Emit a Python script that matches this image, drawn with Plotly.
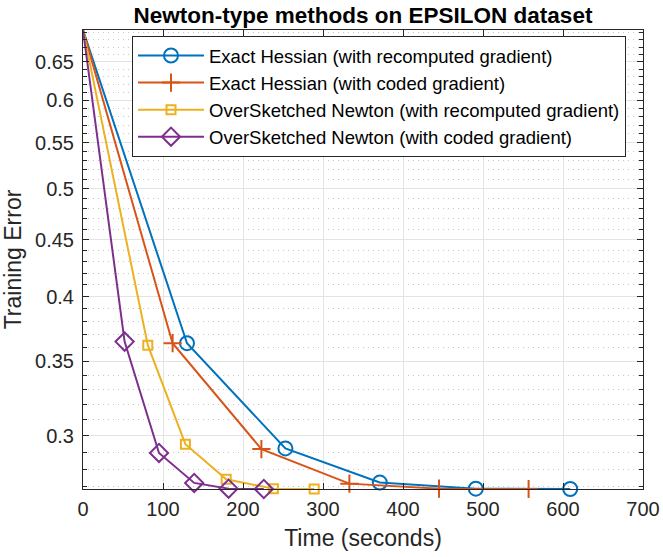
import plotly.graph_objects as go
import math

# ---- data ----
names = [
    "Exact Hessian (with recomputed gradient)",
    "Exact Hessian (with coded gradient)",
    "OverSketched Newton (with recomputed gradient)",
    "OverSketched Newton (with coded gradient)",
]
time_exact_recomp = [0, 130, 253, 371, 491, 609]
err_exact_recomp = [0.694, 0.3633, 0.2923, 0.2724, 0.2690, 0.2688]

time_exact_coded = [0, 112, 223, 333, 445, 557]
err_exact_coded = [0.694, 0.3633, 0.2919, 0.2718, 0.2690, 0.2688]

time_os_recomp = [0, 81, 128, 179, 238, 289]
err_os_recomp = [0.694, 0.3618, 0.2949, 0.2743, 0.2690, 0.2688]

time_os_coded = [0, 52, 95, 139, 182, 226]
err_os_coded = [0.694, 0.3645, 0.2896, 0.2722, 0.2690, 0.2688]

y_major_ticks = [0.3, 0.35, 0.4, 0.45, 0.5, 0.55, 0.6, 0.65]
y_major_labels = ["0.3", "0.35", "0.4", "0.45", "0.5", "0.55", "0.6", "0.65"]
y_minor_ticks = [0.27, 0.28, 0.29, 0.31, 0.32, 0.33, 0.34, 0.36, 0.37, 0.38, 0.39,
                 0.41, 0.42, 0.43, 0.44, 0.46, 0.47, 0.48, 0.49, 0.51, 0.52, 0.53, 0.54,
                 0.56, 0.57, 0.58, 0.59, 0.61, 0.62, 0.63, 0.64, 0.66, 0.67, 0.68, 0.69]
x_ticks = [0, 100, 200, 300, 400, 500, 600, 700]
x_range = [0, 700]
y_range = [0.2688, 0.694]

# ---- styling ----
colors = ["#0072BD", "#D95319", "#EDB120", "#7E2F8E"]
symbols = ["circle-open", "cross-thin-open", "square-open", "diamond-open"]
sizes = [14, 13, 9, 14]
FONT = "Liberation Sans, Arial, Helvetica, sans-serif"
AX = "#262626"

series = [
    (time_exact_recomp, err_exact_recomp),
    (time_exact_coded, err_exact_coded),
    (time_os_recomp, err_os_recomp),
    (time_os_coded, err_os_coded),
]

fig = go.Figure()
for (xs, ys), nm, c, s, sz in zip(series, names, colors, symbols, sizes):
    fig.add_trace(go.Scatter(
        x=xs, y=ys, name=nm, mode="lines+markers",
        line=dict(color=c, width=2),
        marker=dict(symbol=s, size=sz, color=c, line=dict(color=c, width=2)),
        cliponaxis=False,
    ))

fig.update_layout(
    width=663, height=557,
    margin=dict(l=83, r=20, t=30, b=68, autoexpand=False),
    paper_bgcolor="white", plot_bgcolor="white",
    font=dict(family=FONT, color=AX, size=20),
    title=dict(text="<b>Newton-type methods on EPSILON dataset</b>",
               x=0.5, xref="paper", xanchor="center",
               y=1 - 15 / 557, yref="container", yanchor="middle",
               font=dict(family=FONT, size=22.5, color="black")),
    showlegend=True,
    legend=dict(x=(132 - 83) / 560, y=(489 - 36) / 459, xanchor="left", yanchor="top",
                bgcolor="white", bordercolor=AX, borderwidth=1,
                font=dict(family=FONT, size=18.5, color="black"),
                itemwidth=66, tracegroupgap=0),
)

fig.update_xaxes(
    range=x_range, tickvals=x_ticks, ticktext=[str(v) for v in x_ticks],
    showline=True, linecolor=AX, linewidth=1, mirror="ticks",
    ticks="inside", ticklen=6, tickcolor=AX,
    showgrid=True, gridcolor="#e3e3e3", gridwidth=1, zeroline=False,
    tickfont=dict(family=FONT, size=20, color=AX),
    ticklabelstandoff=2,
    title=dict(text="Time (seconds)", font=dict(family=FONT, size=23, color=AX), standoff=10),
    automargin=False,
)
fig.update_yaxes(
    type="log", range=[math.log10(y_range[0]), math.log10(y_range[1])],
    tickvals=y_major_ticks, ticktext=y_major_labels,
    showline=True, linecolor=AX, linewidth=1, mirror="ticks",
    ticks="inside", ticklen=6, tickcolor=AX,
    showgrid=True, gridcolor="#e3e3e3", gridwidth=1, zeroline=False,
    tickfont=dict(family=FONT, size=20, color=AX),
    ticklabelstandoff=4,
    minor=dict(tickvals=y_minor_ticks, ticks="inside", ticklen=4, tickcolor=AX,
               showgrid=True, gridcolor="#c8c8c8", griddash="1px,4px", gridwidth=1),
    title=dict(text="Training Error", font=dict(family=FONT, size=23, color=AX), standoff=14),
    automargin=False,
)

fig.write_html("out.html")
